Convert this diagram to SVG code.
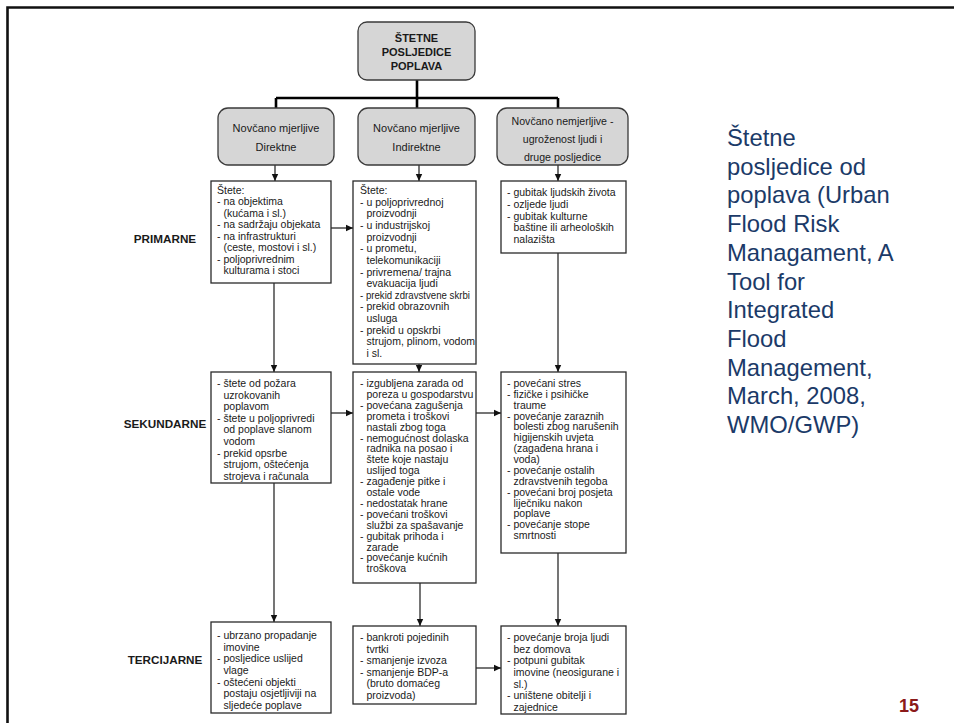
<svg xmlns="http://www.w3.org/2000/svg" width="954" height="723" viewBox="0 0 954 723">
<style>
.t{font-family:"Liberation Sans",Arial,sans-serif;font-size:10.5px;fill:#1a1a1a}
.c{font-family:"Liberation Sans",Arial,sans-serif;font-size:11px;fill:#1a1a1a;text-anchor:middle}
.b{font-family:"Liberation Sans",Arial,sans-serif;font-size:11px;font-weight:bold;fill:#1a1a1a;text-anchor:middle}
.lbl{font-size:11.7px}
.box{fill:#fff;stroke:#2a2a2a;stroke-width:1.3}
.gbox{fill:#d6d6d6;stroke:#3a3a3a;stroke-width:1.3}
.ln{stroke:#1a1a1a;stroke-width:1.2;fill:none}
.bus{stroke:#000;stroke-width:2.6;fill:none}
.note{font-family:"Liberation Sans",Arial,sans-serif;font-size:23.8px;fill:#1b3a68}
</style>
<defs>
<marker id="ah" markerWidth="8" markerHeight="8" refX="7" refY="4" orient="auto" markerUnits="userSpaceOnUse">
<path d="M0,0.8 L7,4 L0,7.2 Z" fill="#111"/>
</marker>
</defs>
<rect width="954" height="723" fill="#fff"/>
<g id="slide-border">
<path d="M7.5,723 L7.5,7.5 L954,7.5" stroke="#111" stroke-width="2.6" fill="none"/>
</g>

<g id="connectors">
<path class="bus" d="M417,80 L417,98 M276,98 L558,98 M276,98 L276,108 M417,98 L417,108 M558,98 L558,108"/>
<path class="ln" d="M275,165 L275,181" marker-end="url(#ah)"/>
<path class="ln" d="M419,165 L419,181" marker-end="url(#ah)"/>
<path class="ln" d="M558,165 L558,181" marker-end="url(#ah)"/>
<path class="ln" d="M331,228 L353,228" marker-end="url(#ah)"/>
<path class="ln" d="M274,283 L274,372" marker-end="url(#ah)"/>
<path class="ln" d="M419,364 L419,372" marker-end="url(#ah)"/>
<path class="ln" d="M558,253 L558,372" marker-end="url(#ah)"/>
<path class="ln" d="M331,413 L353,413" marker-end="url(#ah)"/>
<path class="ln" d="M476,413 L501,413" marker-end="url(#ah)"/>
<path class="ln" d="M274,483 L274,622" marker-end="url(#ah)"/>
<path class="ln" d="M420,583 L420,626" marker-end="url(#ah)"/>
<path class="ln" d="M558,553 L558,626" marker-end="url(#ah)"/>
<path class="ln" d="M476,668 L501,668" marker-end="url(#ah)"/>
</g>

<g id="root">
<rect class="gbox" x="358" y="22" width="117" height="58" rx="9"/>
<text class="b" x="416.5"><tspan x="416.5" y="42">ŠTETNE</tspan><tspan x="416.5" y="56">POSLJEDICE</tspan><tspan x="416.5" y="70">POPLAVA</tspan></text>
</g>
<g id="cat-direct">
<rect class="gbox" x="218" y="108" width="116" height="57" rx="10"/>
<text class="c"><tspan x="276" y="132">Novčano mjerljive</tspan><tspan x="276" y="151">Direktne</tspan></text>
</g>
<g id="cat-indirect">
<rect class="gbox" x="358" y="108" width="117" height="57" rx="10"/>
<text class="c"><tspan x="416.5" y="132">Novčano mjerljive</tspan><tspan x="416.5" y="151">Indirektne</tspan></text>
</g>
<g id="cat-nonmonetary">
<rect class="gbox" x="497" y="108" width="131" height="57" rx="10"/>
<text class="c" style="font-size:10.6px"><tspan x="562.5" y="125">Novčano nemjerljive -</tspan><tspan x="562.5" y="143">ugroženost ljudi i</tspan><tspan x="562.5" y="161">druge posljedice</tspan></text>
</g>

<g id="label-primarne"><text class="b lbl" x="165" y="243">PRIMARNE</text></g>
<g id="label-sekundarne"><text class="b lbl" x="165" y="428">SEKUNDARNE</text></g>
<g id="label-tercijarne"><text class="b lbl" x="165" y="664">TERCIJARNE</text></g>

<g id="p-direct">
<rect class="box" x="211" y="181" width="120" height="102"/>
<text class="t"><tspan x="217" y="194">Štete:</tspan><tspan x="217" y="205.4">- na objektima</tspan><tspan x="223.5" y="216.9">(kućama i sl.)</tspan><tspan x="217" y="228.3">- na sadržaju objekata</tspan><tspan x="217" y="239.7">- na infrastrukturi</tspan><tspan x="223.5" y="251.1">(ceste, mostovi i sl.)</tspan><tspan x="217" y="262.6">- poljoprivrednim</tspan><tspan x="223.5" y="274">kulturama i stoci</tspan></text>
</g>
<g id="p-indirect">
<rect class="box" x="353" y="181" width="123" height="183"/>
<text class="t"><tspan x="360" y="194">Štete:</tspan><tspan x="360" y="205.6">- u poljoprivrednoj</tspan><tspan x="366.5" y="217.3">proizvodnji</tspan><tspan x="360" y="228.9">- u industrijskoj</tspan><tspan x="366.5" y="240.6">proizvodnji</tspan><tspan x="360" y="252.2">- u prometu,</tspan><tspan x="366.5" y="263.8">telekomunikaciji</tspan><tspan x="360" y="275.5">- privremena/ trajna</tspan><tspan x="366.5" y="287.1">evakuacija ljudi</tspan><tspan x="360" y="298.8" textLength="110" lengthAdjust="spacingAndGlyphs">- prekid zdravstvene skrbi</tspan><tspan x="360" y="310.4">- prekid obrazovnih</tspan><tspan x="366.5" y="322">usluga</tspan><tspan x="360" y="333.7">- prekid u opskrbi</tspan><tspan x="366.5" y="345.3">strujom, plinom, vodom</tspan><tspan x="366.5" y="357">i sl.</tspan></text>
</g>
<g id="p-nonmonetary">
<rect class="box" x="501" y="181" width="125" height="72"/>
<text class="t"><tspan x="507" y="196">- gubitak ljudskih života</tspan><tspan x="507" y="207.7">- ozljede ljudi</tspan><tspan x="507" y="219.5">- gubitak kulturne</tspan><tspan x="513.5" y="231.2">baštine ili arheoloških</tspan><tspan x="513.5" y="243">nalazišta</tspan></text>
</g>

<g id="s-direct">
<rect class="box" x="211" y="372" width="120" height="111"/>
<text class="t"><tspan x="217" y="387">- štete od požara</tspan><tspan x="223.5" y="398.6">uzrokovanih</tspan><tspan x="223.5" y="410.2">poplavom</tspan><tspan x="217" y="421.8">- štete u poljoprivredi</tspan><tspan x="223.5" y="433.4">od poplave slanom</tspan><tspan x="223.5" y="445">vodom</tspan><tspan x="217" y="456.6">- prekid opsrbe</tspan><tspan x="223.5" y="468.2">strujom, oštećenja</tspan><tspan x="223.5" y="479.8">strojeva i računala</tspan></text>
</g>
<g id="s-indirect">
<rect class="box" x="353" y="372" width="123" height="211"/>
<text class="t"><tspan x="360" y="387">- izgubljena zarada od</tspan><tspan x="366.5" y="397.9">poreza u gospodarstvu</tspan><tspan x="360" y="408.8">- povećana zagušenja</tspan><tspan x="366.5" y="419.7">prometa i troškovi</tspan><tspan x="366.5" y="430.6">nastali zbog toga</tspan><tspan x="360" y="441.5">- nemogućnost dolaska</tspan><tspan x="366.5" y="452.4">radnika na posao i</tspan><tspan x="366.5" y="463.3">štete koje nastaju</tspan><tspan x="366.5" y="474.2">uslijed toga</tspan><tspan x="360" y="485.1">- zagađenje pitke i</tspan><tspan x="366.5" y="496">ostale vode</tspan><tspan x="360" y="506.9">- nedostatak hrane</tspan><tspan x="360" y="517.8">- povećani troškovi</tspan><tspan x="366.5" y="528.7">službi za spašavanje</tspan><tspan x="360" y="539.6">- gubitak prihoda i</tspan><tspan x="366.5" y="550.5">zarade</tspan><tspan x="360" y="561.4">- povećanje kućnih</tspan><tspan x="366.5" y="572.3">troškova</tspan></text>
</g>
<g id="s-nonmonetary">
<rect class="box" x="501" y="372" width="125" height="181"/>
<text class="t"><tspan x="507" y="387">- povećani stres</tspan><tspan x="507" y="397.9">- fizičke i psihičke</tspan><tspan x="513.5" y="408.7">traume</tspan><tspan x="507" y="419.6">- povećanje zaraznih</tspan><tspan x="513.5" y="430.4">bolesti zbog narušenih</tspan><tspan x="513.5" y="441.3">higijenskih uvjeta</tspan><tspan x="513.5" y="452.2">(zagađena hrana i</tspan><tspan x="513.5" y="463">voda)</tspan><tspan x="507" y="473.9">- povećanje ostalih</tspan><tspan x="513.5" y="484.7">zdravstvenih tegoba</tspan><tspan x="507" y="495.6">- povećani broj posjeta</tspan><tspan x="513.5" y="506.5">liječniku nakon</tspan><tspan x="513.5" y="517.3">poplave</tspan><tspan x="507" y="528.2">- povećanje stope</tspan><tspan x="513.5" y="539">smrtnosti</tspan></text>
</g>

<g id="t-direct">
<rect class="box" x="211" y="622" width="120" height="91"/>
<text class="t"><tspan x="217" y="639">- ubrzano propadanje</tspan><tspan x="223.5" y="650.7">imovine</tspan><tspan x="217" y="662.3">- posljedice uslijed</tspan><tspan x="223.5" y="674">vlage</tspan><tspan x="217" y="685.7">- oštećeni objekti</tspan><tspan x="223.5" y="697.3">postaju osjetljiviji na</tspan><tspan x="223.5" y="709">sljedeće poplave</tspan></text>
</g>
<g id="t-indirect">
<rect class="box" x="353" y="626" width="123" height="78"/>
<text class="t"><tspan x="360" y="641">- bankroti pojedinih</tspan><tspan x="366.5" y="652.6">tvrtki</tspan><tspan x="360" y="664.2">- smanjenje izvoza</tspan><tspan x="360" y="675.8">- smanjenje BDP-a</tspan><tspan x="366.5" y="687.4">(bruto domaćeg</tspan><tspan x="366.5" y="699">proizvoda)</tspan></text>
</g>
<g id="t-nonmonetary">
<rect class="box" x="501" y="626" width="125" height="88"/>
<text class="t"><tspan x="507" y="641">- povećanje broja ljudi</tspan><tspan x="513.5" y="652.7">bez domova</tspan><tspan x="507" y="664.3">- potpuni gubitak</tspan><tspan x="513.5" y="676">imovine (neosigurane i</tspan><tspan x="513.5" y="687.7">sl.)</tspan><tspan x="507" y="699.3">- uništene obitelji i</tspan><tspan x="513.5" y="711">zajednice</tspan></text>
</g>

<g id="note">
<text class="note"><tspan x="727" y="146">Štetne</tspan><tspan x="727" y="174.7">posljedice od</tspan><tspan x="727" y="203.4">poplava (Urban</tspan><tspan x="727" y="232.1">Flood Risk</tspan><tspan x="727" y="260.8">Managament, A</tspan><tspan x="727" y="289.5">Tool for</tspan><tspan x="727" y="318.2">Integrated</tspan><tspan x="727" y="346.9">Flood</tspan><tspan x="727" y="375.6">Management,</tspan><tspan x="727" y="404.3">March, 2008,</tspan><tspan x="727" y="433">WMO/GWP)</tspan></text>
</g>
<g id="page-number">
<text x="899" y="712" style="font-family:'Liberation Sans',Arial,sans-serif;font-size:18px;font-weight:bold;fill:#8b1a1a">15</text>
</g>
</svg>
